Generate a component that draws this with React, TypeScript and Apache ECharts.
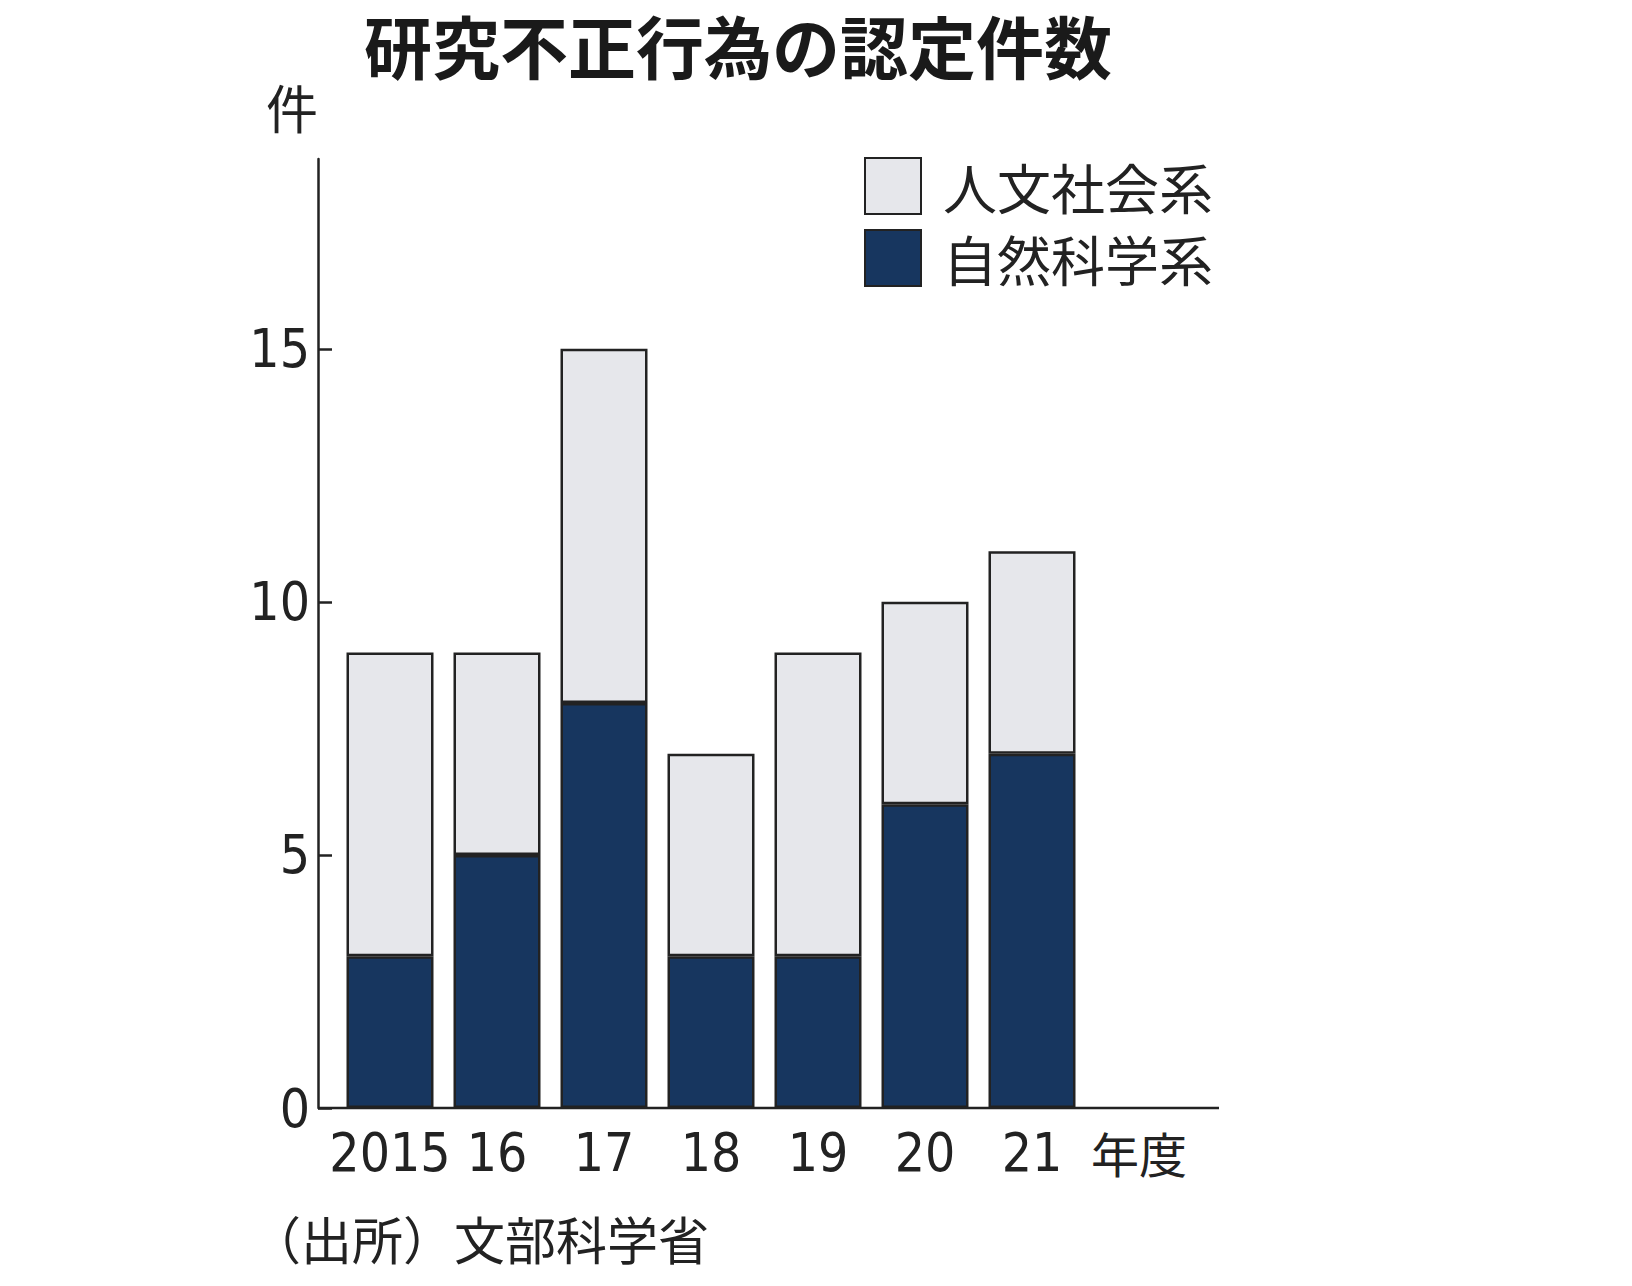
import React, { useEffect, useRef } from "react";
import * as echarts from "echarts";

const categories = ["2015", "16", "17", "18", "19", "20", "21", "年度"];
const naturalScience = [3, 5, 8, 3, 3, 6, 7];
const humanities = [6, 4, 7, 4, 6, 4, 4];
const yTickValues = [0, 5, 10, 15];
const titleText = "研究不正行為の認定件数";
const unitText = "件";
const sourceText = "（出所）文部科学省";
const seriesNames = ["人文社会系", "自然科学系"];

const CJK = "'Noto Sans CJK JP', 'Noto Sans CJK SC', sans-serif";
const NUM = "'Liberation Sans Narrow', 'DejaVu Sans Condensed', 'Noto Sans CJK JP', sans-serif";
const INK = "#222222";
const DARK = "#17365f";
const LIGHT = "#e6e7eb";

export default function App() {
  const ref = useRef<HTMLDivElement>(null);
  useEffect(() => {
    if (!ref.current) return;
    const chart = echarts.init(ref.current, null, { renderer: "svg" });
    chart.setOption({
      animation: false,
      backgroundColor: "#ffffff",
      legend: {
        orient: "vertical",
        left: 859,
        top: 152,
        itemWidth: 56,
        itemHeight: 56,
        itemGap: 14,
        icon: "rect",
        data: [seriesNames[0], seriesNames[1]],
        textStyle: {
          fontFamily: CJK,
          fontSize: 54,
          color: INK,
          lineHeight: 56,
          padding: [0, 0, 0, 17],
        },
      },
      grid: { left: 336.5, top: 159, width: 856, height: 949, containLabel: false },
      xAxis: {
        type: "category",
        data: categories,
        axisLine: { show: false },
        axisTick: { show: false },
        axisLabel: {
          margin: 14,
          fontFamily: NUM,
          fontSize: 53,
          lineHeight: 60,
          color: INK,
          interval: 0,
          formatter: (v: string) => (v === "年度" ? "{cjk|年度}" : v),
          rich: { cjk: { fontFamily: CJK, fontSize: 48, lineHeight: 60, color: INK } },
        },
      },
      yAxis: {
        type: "value",
        min: 0,
        max: 18.75,
        interval: 5,
        offset: 18.5,
        splitLine: { show: false },
        axisLine: { show: true, lineStyle: { color: INK, width: 2.5 } },
        axisTick: {
          show: true,
          inside: true,
          length: 14,
          customValues: yTickValues,
          lineStyle: { color: INK, width: 2.5 },
        },
        axisLabel: {
          margin: 8,
          customValues: yTickValues,
          fontFamily: NUM,
          fontSize: 53,
          color: INK,
        },
      },
      series: [
        {
          name: seriesNames[1],
          type: "bar",
          stack: "total",
          barWidth: 87,
          data: naturalScience,
          itemStyle: { color: DARK, borderColor: INK, borderWidth: 2.5 },
        },
        {
          name: seriesNames[0],
          type: "bar",
          stack: "total",
          barWidth: 87,
          data: humanities,
          itemStyle: { color: LIGHT, borderColor: INK, borderWidth: 2.5 },
        },
      ],
      graphic: [
        {
          type: "line",
          z: 100,
          shape: { x1: 318, y1: 1108, x2: 1219, y2: 1108 },
          style: { stroke: INK, lineWidth: 2.5 },
        },
        {
          type: "text",
          x: 738,
          y: 44,
          style: {
            text: titleText,
            fontFamily: CJK,
            fontSize: 68,
            fontWeight: "bold",
            fill: "#1a1a1a",
            textAlign: "center",
            textVerticalAlign: "middle",
            align: "center",
            verticalAlign: "middle",
          },
        },
        {
          type: "text",
          x: 292,
          y: 106,
          style: {
            text: unitText,
            fontFamily: CJK,
            fontSize: 52,
            fill: INK,
            textAlign: "center",
            textVerticalAlign: "middle",
            align: "center",
            verticalAlign: "middle",
          },
        },
        {
          type: "text",
          x: 250,
          y: 1238,
          style: {
            text: sourceText,
            fontFamily: CJK,
            fontSize: 51,
            fill: INK,
            textAlign: "left",
            textVerticalAlign: "middle",
            align: "left",
            verticalAlign: "middle",
          },
        },
      ],
    });
    return () => chart.dispose();
  }, []);
  return (
    <div
      ref={ref}
      style={{ position: "absolute", left: 0, top: 0, width: 1632, height: 1286 }}
    />
  );
}
